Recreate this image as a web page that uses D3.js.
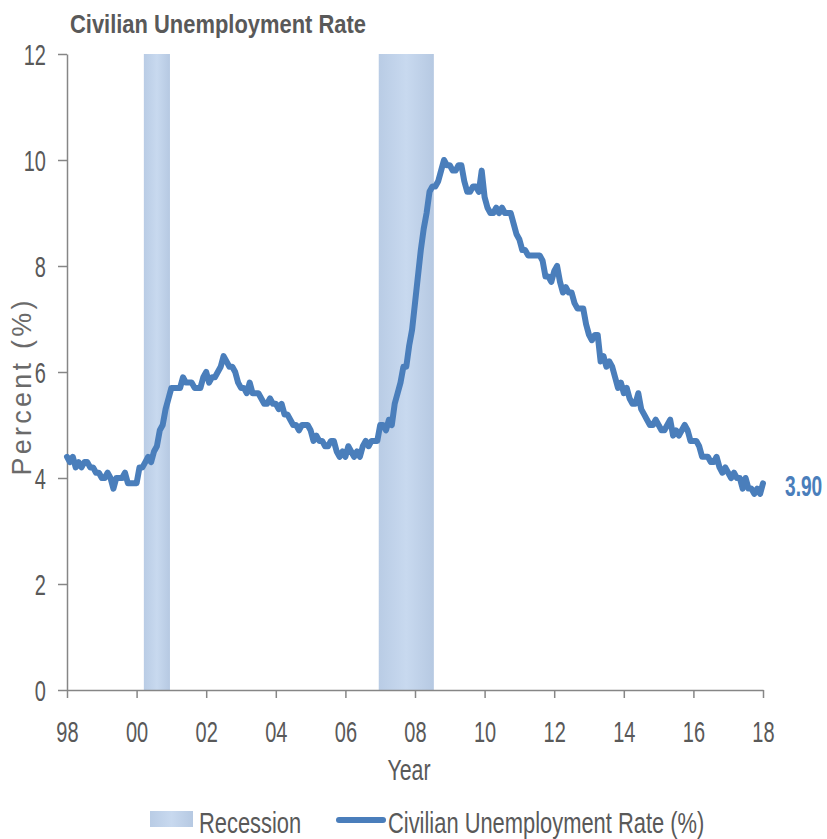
<!DOCTYPE html>
<html>
<head>
<meta charset="utf-8">
<script src="https://cdn.jsdelivr.net/npm/d3@7"></script>
<style>
    html, body { margin: 0; padding: 0; background: #ffffff; }
    svg { display: block; font-family: "Liberation Sans", Arial, sans-serif; }
</style>
</head>
<body>
<div id="chart"></div>
<script>
// Monthly series, first value is Dec 1998
const firstMonth = "1998-12";
const unemploymentRate = [
    4.4,
    4.3, 4.4, 4.2, 4.3, 4.2, 4.3, 4.3, 4.2, 4.2, 4.1, 4.1, 4.0,
    4.0, 4.1, 4.0, 3.8, 4.0, 4.0, 4.0, 4.1, 3.9, 3.9, 3.9, 3.9,
    4.2, 4.2, 4.3, 4.4, 4.3, 4.5, 4.6, 4.9, 5.0, 5.3, 5.5, 5.7,
    5.7, 5.7, 5.7, 5.9, 5.8, 5.8, 5.8, 5.7, 5.7, 5.7, 5.9, 6.0,
    5.8, 5.9, 5.9, 6.0, 6.1, 6.3, 6.2, 6.1, 6.1, 6.0, 5.8, 5.7,
    5.7, 5.6, 5.8, 5.6, 5.6, 5.6, 5.5, 5.4, 5.4, 5.5, 5.4, 5.4,
    5.3, 5.4, 5.2, 5.2, 5.1, 5.0, 5.0, 4.9, 5.0, 5.0, 5.0, 4.9,
    4.7, 4.8, 4.7, 4.7, 4.6, 4.6, 4.7, 4.7, 4.5, 4.4, 4.5, 4.4,
    4.6, 4.5, 4.4, 4.5, 4.4, 4.6, 4.7, 4.6, 4.7, 4.7, 4.7, 5.0,
    5.0, 4.9, 5.1, 5.0, 5.4, 5.6, 5.8, 6.1, 6.1, 6.5, 6.8, 7.3,
    7.8, 8.3, 8.7, 9.0, 9.4, 9.5, 9.5, 9.6, 9.8, 10.0, 9.9, 9.9,
    9.8, 9.8, 9.9, 9.9, 9.6, 9.4, 9.4, 9.5, 9.5, 9.4, 9.8, 9.3,
    9.1, 9.0, 9.0, 9.1, 9.0, 9.1, 9.0, 9.0, 9.0, 8.8, 8.6, 8.5,
    8.3, 8.3, 8.2, 8.2, 8.2, 8.2, 8.2, 8.1, 7.8, 7.8, 7.7, 7.9,
    8.0, 7.7, 7.5, 7.6, 7.5, 7.5, 7.3, 7.2, 7.2, 7.2, 6.9, 6.7,
    6.6, 6.7, 6.7, 6.2, 6.3, 6.1, 6.2, 6.1, 5.9, 5.7, 5.8, 5.6,
    5.7, 5.5, 5.4, 5.4, 5.6, 5.3, 5.2, 5.1, 5.0, 5.0, 5.1, 5.0,
    4.9, 4.9, 5.0, 5.1, 4.8, 4.9, 4.8, 4.9, 5.0, 4.9, 4.7, 4.7,
    4.7, 4.6, 4.4, 4.4, 4.4, 4.3, 4.3, 4.4, 4.2, 4.1, 4.2, 4.1,
    4.0, 4.1, 4.0, 4.0, 3.8, 4.0, 3.8, 3.8, 3.7, 3.8, 3.7, 3.9
];
const yearLabels = ["98", "00", "02", "04", "06", "08", "10", "12", "14", "16", "18"];
const recessions = [
    { start: "2001-03", end: "2001-11" },
    { start: "2007-12", end: "2009-06" }
];
const yTicks = [0, 2, 4, 6, 8, 10, 12];
const lastValueLabel = "3.90";

const config = {
    width: 827,
    height: 839,
    plot: { left: 67, right: 763, top: 54, bottom: 690 },
    monthsPerLabel: 24,
    lineWidth: 6,
    colors: {
        text: "#595959",
        axis: "#868686",
        line: "#4a7ebb",
        recession: ["#b9cce5", "#c8d9ef", "#b6c9e2"]
    }
};

function monthIndex(ym) {
    const [y, m] = ym.split("-").map(Number);
    const [y0, m0] = firstMonth.split("-").map(Number);
    return (y - y0) * 12 + (m - m0);
}

// text squeezed horizontally, like the narrow font of the original
function label(parent, x, y, str, o = {}) {
    const rot = o.rotate ? ` rotate(${o.rotate})` : "";
    return parent.append("g")
        .attr("transform", `translate(${x},${y})${rot} scale(${o.sx || 0.7},1)`)
        .append("text")
        .attr("text-anchor", o.anchor || "start")
        .style("font-size", (o.size || 29) + "px")
        .style("font-weight", o.weight || "normal")
        .style("fill", o.fill || config.colors.text)
        .text(str);
}

const svg = d3.select("#chart").append("svg")
    .attr("width", config.width)
    .attr("height", config.height);

const x = d3.scaleLinear()
    .domain([0, unemploymentRate.length - 1])
    .range([config.plot.left, config.plot.right]);

const y = d3.scaleLinear()
    .domain([0, 12])
    .range([config.plot.bottom, config.plot.top]);

// gradient for recession shading
const grad = svg.append("defs").append("linearGradient")
    .attr("id", "recGrad")
    .attr("x1", 0).attr("x2", 1).attr("y1", 0).attr("y2", 0);
grad.append("stop").attr("offset", "0%").attr("stop-color", config.colors.recession[0]);
grad.append("stop").attr("offset", "50%").attr("stop-color", config.colors.recession[1]);
grad.append("stop").attr("offset", "100%").attr("stop-color", config.colors.recession[2]);

svg.selectAll(".recession")
    .data(recessions)
    .enter()
    .append("rect")
    .attr("class", "recession")
    .attr("x", d => x(monthIndex(d.start) - 0.5))
    .attr("width", d => x(monthIndex(d.end) + 0.5) - x(monthIndex(d.start) - 0.5))
    .attr("y", y(12))
    .attr("height", y(0) - y(12))
    .style("fill", "url(#recGrad)");

// Y axis
const yAxis = svg.append("g")
    .attr("transform", `translate(${config.plot.left},0)`)
    .call(d3.axisLeft(y).tickValues(yTicks).tickSize(9).tickSizeOuter(0).tickPadding(0));
yAxis.selectAll("path, line").style("stroke", config.colors.axis).style("stroke-width", 1.5);
yAxis.selectAll("text")
    .attr("x", -21 / 0.69)
    .attr("dy", "0.35em")
    .attr("transform", "scale(0.69,1)")
    .style("font-size", "29px")
    .style("font-family", "'Liberation Sans', Arial, sans-serif")
    .style("fill", config.colors.text);

// X axis, one label every two years
const xTickValues = yearLabels.map((d, i) => i * config.monthsPerLabel);
const xAxis = svg.append("g")
    .attr("transform", `translate(0,${config.plot.bottom})`)
    .call(d3.axisBottom(x).tickValues(xTickValues).tickSize(8).tickSizeOuter(0)
        .tickFormat((d, i) => yearLabels[i]));
xAxis.selectAll("path, line").style("stroke", config.colors.axis).style("stroke-width", 1.5);
xAxis.selectAll("text")
    .attr("y", 31)
    .attr("dy", "0.71em")
    .attr("transform", "scale(0.69,1)")
    .style("font-size", "29px")
    .style("font-family", "'Liberation Sans', Arial, sans-serif")
    .style("fill", config.colors.text);

// Line
const line = d3.line()
    .x((d, i) => x(i))
    .y(d => y(d));

svg.append("path")
    .datum(unemploymentRate)
    .attr("d", line)
    .style("fill", "none")
    .style("stroke", config.colors.line)
    .style("stroke-width", config.lineWidth)
    .style("stroke-linejoin", "round")
    .style("stroke-linecap", "round");

// Last value
const lastIdx = unemploymentRate.length - 1;
label(svg, 785, y(unemploymentRate[lastIdx]) + 12.5, lastValueLabel,
    { size: 29, sx: 0.66, weight: "bold", fill: config.colors.line });

// Titles
label(svg, 70, 33, "Civilian Unemployment Rate", { size: 25.5, sx: 0.86, weight: "bold" });
label(svg, 409, 780, "Year", { size: 30, sx: 0.71, anchor: "middle" });
label(svg, 31, 388, "Percent (%)", { size: 27, sx: 1, anchor: "middle", rotate: -90 })
    .attr("textLength", 175)
    .attr("lengthAdjust", "spacing")
    .style("fill", "#6a6a6a");

// Legend
const legend = svg.append("g");
legend.append("rect")
    .attr("x", 150).attr("y", 811)
    .attr("width", 43).attr("height", 16)
    .style("fill", "url(#recGrad)");
label(legend, 199, 833, "Recession", { size: 30, sx: 0.73 });
legend.append("line")
    .attr("x1", 339).attr("x2", 383)
    .attr("y1", 820).attr("y2", 820)
    .style("stroke", config.colors.line)
    .style("stroke-width", 6)
    .style("stroke-linecap", "round");
label(legend, 388, 833, "Civilian Unemployment Rate (%)", { size: 30, sx: 0.73 });
</script>
</body>
</html>
